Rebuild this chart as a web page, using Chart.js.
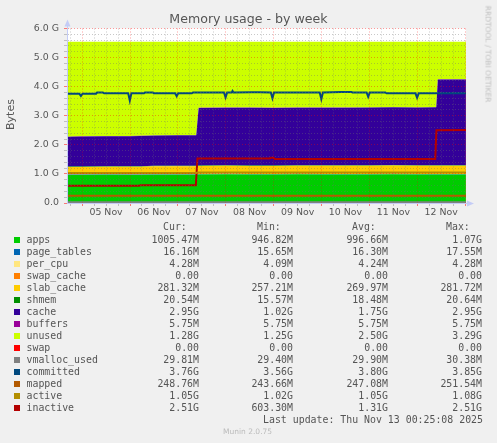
<!DOCTYPE html>
<html>
<head>
<meta charset="utf-8">
<title>Memory usage - by week</title>
<script src="https://cdn.jsdelivr.net/npm/chart.js@4.4.1/dist/chart.umd.min.js"></script>
<style>
  html, body { margin: 0; padding: 0; background: #f0f0f0; }
  #wrap { position: relative; width: 497px; height: 443px; overflow: hidden; font-family: "DejaVu Sans", sans-serif; color: #555; }
  #c { position: absolute; left: 0; top: 0; }
  .t { position: absolute; white-space: pre; }
  .mono { font-family: "DejaVu Sans Mono", monospace; font-size: 9.9px; line-height: 12px; height: 12px; color: #555; }
  .sw { position: absolute; width: 6px; height: 6px; }
</style>
</head>
<body>
<div id="wrap">
  <canvas id="c" width="497" height="443"></canvas>
  <div class="t" style="left:0;width:497px;top:11px;text-align:center;font-size:12.6px;line-height:16px;">Memory usage - by week</div>
  <div class="t" style="left:4px;top:108px;width:13px;height:13px;"><div style="position:absolute;left:-9px;top:0;width:31px;font-size:11px;line-height:13px;color:#555;transform:rotate(-90deg);text-align:center;">Bytes</div></div>
  <div class="t" style="left:488px;top:53.5px;font-size:7.5px;line-height:9px;color:#c0c0c0;transform:translate(-50%,-50%) rotate(90deg);">RRDTOOL / TOBI OETIKER</div>
  <div id="legend"></div>
  <div class="t mono" style="right:14px;top:414px;">Last update: Thu Nov 13 00:25:08 2025</div>
  <div class="t" style="left:223px;top:427px;font-size:7.5px;line-height:10px;color:#bbb;">Munin 2.0.75</div>
</div>
<script>
// tick labels
const dayLabels = ['05 Nov', '06 Nov', '07 Nov', '08 Nov', '09 Nov', '10 Nov', '11 Nov', '12 Nov'];
const yLabels = ['0.0', '1.0 G', '2.0 G', '3.0 G', '4.0 G', '5.0 G', '6.0 G'];

// time in hours since 04 Nov 00:00, values in GiB
const hours      = [16.4, 24, 36, 48, 53, 60, 72, 81.2, 82.4, 96, 108, 120, 132, 144, 156, 168, 180, 192, 201.5, 202.3, 216.4];
const apps       = [0.96, 0.96, 0.97, 0.96, 0.96, 0.97, 0.97, 0.97, 0.98, 0.99, 0.98, 0.98, 0.99, 0.98, 0.98, 0.98, 0.99, 0.98, 0.98, 0.98, 0.98];
const pageTables = [0.016, 0.016, 0.016, 0.016, 0.016, 0.016, 0.016, 0.016, 0.016, 0.017, 0.016, 0.016, 0.016, 0.016, 0.016, 0.017, 0.016, 0.016, 0.016, 0.016, 0.016];
const perCpu     = [0.004, 0.004, 0.004, 0.004, 0.004, 0.004, 0.004, 0.004, 0.004, 0.004, 0.004, 0.004, 0.004, 0.004, 0.004, 0.004, 0.004, 0.004, 0.004, 0.004, 0.004];
const swapCache  = [0, 0, 0, 0, 0, 0, 0, 0, 0, 0, 0, 0, 0, 0, 0, 0, 0, 0, 0, 0, 0];
const slabCache  = [0.26, 0.26, 0.26, 0.27, 0.27, 0.27, 0.27, 0.27, 0.27, 0.27, 0.27, 0.27, 0.27, 0.28, 0.28, 0.28, 0.28, 0.28, 0.28, 0.28, 0.28];
const shmem      = [0.016, 0.016, 0.017, 0.017, 0.017, 0.017, 0.018, 0.018, 0.018, 0.018, 0.018, 0.019, 0.019, 0.019, 0.019, 0.019, 0.019, 0.02, 0.02, 0.02, 0.02];
const cache      = [1.02, 1.03, 1.03, 1.03, 1.04, 1.04, 1.05, 1.05, 1.98, 1.98, 1.99, 1.98, 1.98, 1.98, 1.98, 1.98, 1.98, 1.98, 1.99, 2.95, 2.95];
const buffers    = [0.0056, 0.0056, 0.0056, 0.0056, 0.0056, 0.0056, 0.0056, 0.0056, 0.0056, 0.0056, 0.0056, 0.0056, 0.0056, 0.0056, 0.0056, 0.0056, 0.0056, 0.0056, 0.0056, 0.0056, 0.0056];
const unused     = [3.26, 3.25, 3.24, 3.24, 3.23, 3.22, 3.21, 3.21, 2.27, 2.26, 2.26, 2.27, 2.26, 2.26, 2.26, 2.26, 2.25, 2.26, 2.25, 1.29, 1.29];
const swap       = [0, 0, 0, 0, 0, 0, 0, 0, 0, 0, 0, 0, 0, 0, 0, 0, 0, 0, 0, 0, 0];

const flatHours   = [16.4, 216.4];
const vmalloc     = [0.029, 0.029];
const mapped      = [0.245, 0.245];
const activeHours = [16.4, 81.2, 82.2, 216.4];
const active      = [1.03, 1.03, 1.05, 1.05];

const committedHours = [16.4, 22.6, 23.4, 24.2, 31.0, 31.5, 34.4, 35.0, 47.1, 47.9, 48.7, 55.0, 55.5, 59.4, 60.0, 70.6, 71.4, 72.2,
  79.0, 79.6, 95.1, 95.9, 96.7, 99.0, 99.4, 99.9, 108.9, 112.9, 118.6, 119.4, 120.2, 143.1, 143.9, 144.7, 153.9, 158.9, 159.5,
  166.6, 167.4, 168.2, 176.0, 176.6, 191.1, 191.9, 192.7, 216.4];
const committed = [3.76, 3.76, 3.68, 3.76, 3.76, 3.80, 3.80, 3.77, 3.77, 3.52, 3.77, 3.77, 3.80, 3.80, 3.77, 3.77, 3.67, 3.77,
  3.77, 3.80, 3.80, 3.63, 3.80, 3.80, 3.85, 3.80, 3.81, 3.81, 3.80, 3.60, 3.80, 3.80, 3.57, 3.80, 3.82, 3.82, 3.80,
  3.80, 3.65, 3.80, 3.80, 3.77, 3.77, 3.62, 3.77, 3.77];

const inactiveHours = [16.4, 52.5, 53.2, 81.0, 81.8, 118.0, 118.6, 120.0, 120.6, 201.0, 201.6, 216.4];
const inactive      = [0.59, 0.59, 0.61, 0.61, 1.53, 1.53, 1.56, 1.56, 1.51, 1.51, 2.50, 2.51];

// legend
const names  = ['apps', 'page_tables', 'per_cpu', 'swap_cache', 'slab_cache', 'shmem', 'cache', 'buffers', 'unused', 'swap',
                'vmalloc_used', 'committed', 'mapped', 'active', 'inactive'];
const colors = ['#00cc00', '#0066b3', '#ffe680', '#ff8000', '#ffcc00', '#008f00', '#330099', '#990099', '#ccff00', '#ff0000',
                '#808080', '#00487d', '#b35a00', '#b38f00', '#b30000'];
const curVals = ['1005.47M', '16.16M', '4.28M', '0.00', '281.32M', '20.54M', '2.95G', '5.75M', '1.28G', '0.00', '29.81M', '3.76G', '248.76M', '1.05G', '2.51G'];
const minVals = ['946.82M', '15.65M', '4.09M', '0.00', '257.21M', '15.57M', '1.02G', '5.75M', '1.25G', '0.00', '29.40M', '3.56G', '243.66M', '1.02G', '603.30M'];
const avgVals = ['996.66M', '16.30M', '4.24M', '0.00', '269.97M', '18.48M', '1.75G', '5.75M', '2.50G', '0.00', '29.90M', '3.80G', '247.08M', '1.05G', '1.31G'];
const maxVals = ['1.07G', '17.55M', '4.28M', '0.00', '281.72M', '20.64M', '2.95G', '5.75M', '3.29G', '0.00', '30.38M', '3.85G', '251.54M', '1.08G', '2.51G'];

const axisColor = '#c4ccf6';

function pts(xs, ys) {
  return xs.map((x, i) => ({ x: x, y: ys[i] }));
}

const areas = [apps, pageTables, perCpu, swapCache, slabCache, shmem, cache, buffers, unused, swap];
const lines = [
  [flatHours, vmalloc],
  [committedHours, committed],
  [flatHours, mapped],
  [activeHours, active],
  [inactiveHours, inactive]
];

const datasets = [];
areas.forEach((vals, i) => {
  datasets.push({
    label: names[i],
    data: pts(hours, vals),
    backgroundColor: colors[i],
    borderColor: colors[i],
    borderWidth: 0,
    pointRadius: 0,
    tension: 0,
    fill: i === 0 ? 'origin' : '-1',
    stack: 'mem',
    order: 1
  });
});
lines.forEach((l, j) => {
  const i = areas.length + j;
  datasets.push({
    label: names[i],
    data: pts(l[0], l[1]),
    borderColor: colors[i],
    backgroundColor: colors[i],
    borderWidth: 2,
    pointRadius: 0,
    tension: 0,
    fill: false,
    stack: 'line' + j,
    order: 0
  });
});

const plotBg = {
  id: 'plotBg',
  beforeDraw(chart) {
    const { ctx, chartArea: a } = chart;
    ctx.save();
    ctx.fillStyle = '#ffffff';
    ctx.fillRect(a.left, a.top, a.right - a.left, a.bottom - a.top);
    ctx.restore();
  }
};

const axisArrows = {
  id: 'axisArrows',
  afterDraw(chart) {
    const { ctx, chartArea: a } = chart;
    const x0 = Math.round(a.left) + 0.5, y0 = Math.round(a.bottom) + 0.5;
    ctx.save();
    ctx.strokeStyle = axisColor;
    ctx.fillStyle = axisColor;
    ctx.lineWidth = 1;
    ctx.beginPath();
    ctx.moveTo(x0, a.top);
    ctx.lineTo(x0, a.top - 4);
    ctx.moveTo(a.right, y0);
    ctx.lineTo(a.right + 3, y0);
    ctx.stroke();
    ctx.beginPath();
    ctx.moveTo(x0, a.top - 9);
    ctx.lineTo(x0 - 3, a.top - 2);
    ctx.lineTo(x0 + 3, a.top - 2);
    ctx.closePath();
    ctx.fill();
    ctx.beginPath();
    ctx.moveTo(a.right + 8, y0);
    ctx.lineTo(a.right + 1, y0 - 3);
    ctx.lineTo(a.right + 1, y0 + 3);
    ctx.closePath();
    ctx.fill();
    ctx.restore();
  }
};

const tickFont = { family: 'DejaVu Sans', size: 9.4 };
const minorGrid = 'rgba(110,110,110,0.38)';
const majorGrid = 'rgba(255,0,0,0.38)';

new Chart(document.getElementById('c'), {
  type: 'line',
  data: { datasets: datasets },
  options: {
    responsive: false,
    animation: false,
    devicePixelRatio: 1,
    layout: { padding: { left: 0, right: 31, top: 28.5, bottom: 0 } },
    plugins: { legend: { display: false }, tooltip: { enabled: false }, title: { display: false } },
    elements: { line: { borderJoinStyle: 'miter' } },
    scales: {
      x: {
        type: 'linear',
        min: 16.42,
        max: 216.42,
        afterFit(scale) { scale.height = 240; },
        afterBuildTicks(scale) {
          const t = [];
          for (let h = 18; h <= 216; h += 6) t.push({ value: h });
          scale.ticks = t;
        },
        grid: {
          z: 1,
          color: ctx => (ctx.tick && ctx.tick.value % 24 === 0) ? majorGrid : minorGrid,
          tickColor: ctx => (ctx.tick && ctx.tick.value % 24 === 0) ? 'rgba(255,0,0,0.5)' : 'rgba(120,120,120,0.4)',
          tickLength: 3,
          lineWidth: 1
        },
        border: { display: true, z: 2, color: axisColor, dash: [1, 2] },
        ticks: {
          z: 2,
          autoSkip: false,
          maxRotation: 0,
          padding: 1,
          color: '#555',
          font: tickFont,
          callback: v => (v % 24 === 12) ? dayLabels[(v - 36) / 24] : ''
        }
      },
      y: {
        type: 'linear',
        min: 0,
        max: 6,
        stacked: true,
        afterFit(scale) { scale.width = 67; },
        afterBuildTicks(scale) {
          const t = [];
          for (let k = 0; k <= 30; k++) t.push({ value: k / 5 });
          scale.ticks = t;
        },
        grid: {
          z: 1,
          color: ctx => {
            if (!ctx.tick) return minorGrid;
            const k = Math.round(ctx.tick.value * 5);
            if (k === 0) return 'rgba(0,0,0,0)';
            return k % 5 === 0 ? majorGrid : minorGrid;
          },
          tickColor: ctx => (ctx.tick && Math.round(ctx.tick.value * 5) % 5 === 0) ? 'rgba(255,0,0,0.5)' : 'rgba(120,120,120,0.4)',
          tickLength: 3,
          lineWidth: 1
        },
        border: { display: true, z: 2, color: axisColor, dash: [1, 2] },
        ticks: {
          z: 2,
          autoSkip: false,
          padding: 5,
          color: '#555',
          font: tickFont,
          callback: v => {
            const k = Math.round(v * 5);
            return k % 5 === 0 ? yLabels[k / 5] : '';
          }
        }
      }
    }
  },
  plugins: [plotBg, axisArrows]
});

// text legend below the plot
const legend = document.getElementById('legend');
function cell(text, style) {
  const d = document.createElement('div');
  d.className = 't mono';
  d.style.cssText = style;
  d.textContent = text;
  legend.appendChild(d);
}
const valueRights = [199, 293, 388, 482];
const headers = ['Cur:', 'Min:', 'Avg:', 'Max:'];
headers.forEach((h, c) => cell(h, 'left:' + (valueRights[c] - 36) + 'px;top:221px;'));
names.forEach((n, i) => {
  const top = 234 + i * 12;
  const sw = document.createElement('div');
  sw.className = 'sw';
  sw.style.cssText = 'left:14px;top:' + (top + 3) + 'px;background:' + colors[i] + ';';
  legend.appendChild(sw);
  cell(n, 'left:26.5px;top:' + top + 'px;');
  [curVals[i], minVals[i], avgVals[i], maxVals[i]].forEach((v, c) => {
    cell(v, 'right:' + (497 - valueRights[c]) + 'px;top:' + top + 'px;');
  });
});
</script>
</body>
</html>
